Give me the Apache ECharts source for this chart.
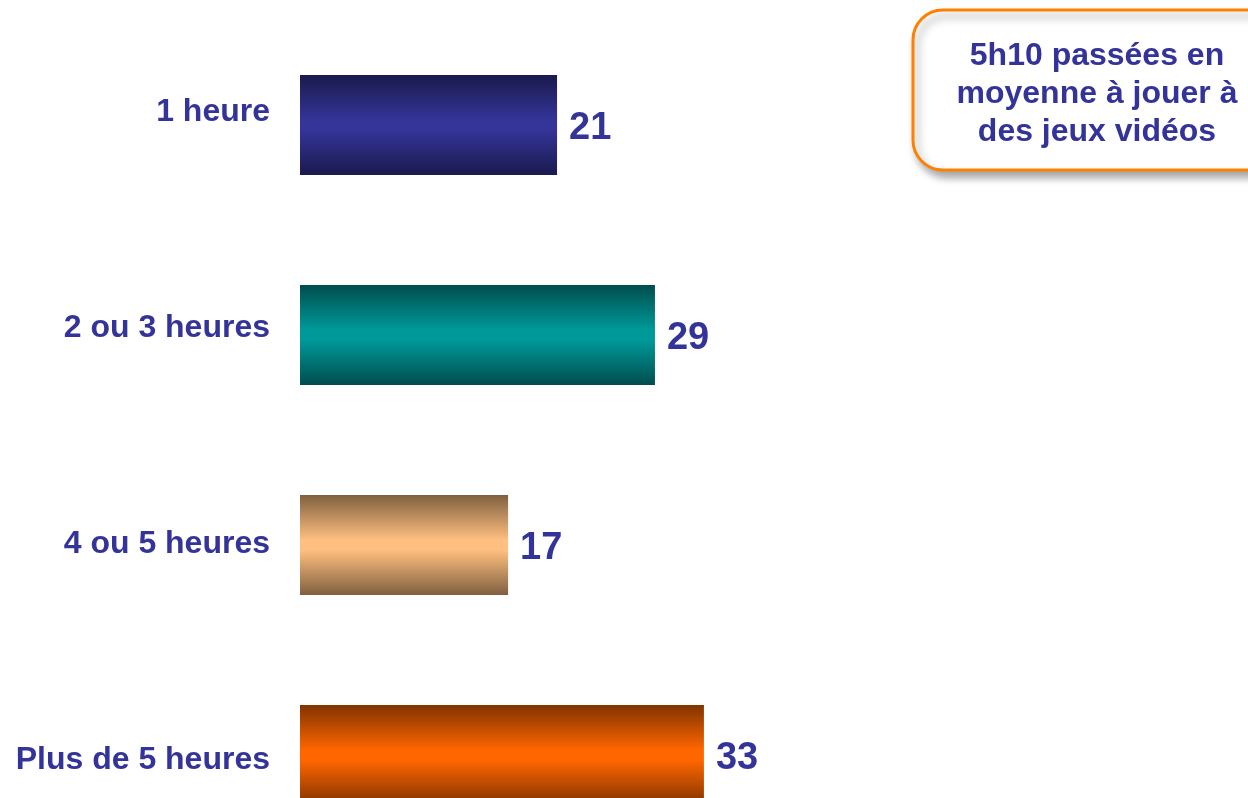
<!DOCTYPE html>
<html>
<head>
<meta charset="utf-8">
<title>Temps passé à jouer</title>
<script src="https://cdn.jsdelivr.net/npm/echarts@6/dist/echarts.min.js"></script>
<style>
  html, body { margin: 0; padding: 0; background: #fff; overflow: hidden; }
  /* taller than the window: the last bar is cut off at the bottom */
  #chart { width: 1248px; height: 880px; }
</style>
</head>
<body>
<div id="chart"></div>
<script>
  const categories = ['1 heure', '2 ou 3 heures', '4 ou 5 heures', 'Plus de 5 heures']
  const values = [21, 29, 17, 33]
  // edge colour, centre colour of each bar
  const barColors = [
    ['#1a1a4d', '#343499'],
    ['#004d4d', '#009999'],
    ['#80603f', '#ffbf80'],
    ['#803300', '#ff6600']
  ]
  const noteText = '5h10 passées en\nmoyenne à jouer à\ndes jeux vidéos'

  const font = '"Liberation Sans", Arial, sans-serif'
  const textColor = '#333399'

  const chart = echarts.init(document.getElementById('chart'))

  const seriesData = values.map((v, i) => ({
    value: v,
    itemStyle: {
      color: new echarts.graphic.LinearGradient(0, 0, 0, 1, [
        { offset: 0, color: barColors[i][0] },
        { offset: 0.45, color: barColors[i][1] },
        { offset: 0.55, color: barColors[i][1] },
        { offset: 1, color: barColors[i][0] }
      ])
    }
  }))

  chart.setOption({
    animation: false,
    grid: [
      { left: 300, top: 20, width: 612, height: 840 },
      // labels only, slightly different spacing than the bars
      { left: 300, top: 4, width: 612, height: 864 }
    ],
    xAxis: [
      { gridIndex: 0, type: 'value', min: 0, max: 50, show: false },
      { gridIndex: 1, type: 'value', min: 0, max: 50, show: false }
    ],
    yAxis: [
      {
        gridIndex: 0,
        type: 'category',
        inverse: true,
        data: categories,
        axisLine: { show: false },
        axisTick: { show: false },
        axisLabel: { show: false }
      },
      {
        gridIndex: 1,
        type: 'category',
        inverse: true,
        data: categories,
        axisLine: { show: false },
        axisTick: { show: false },
        axisLabel: {
          margin: 30,
          color: textColor,
          fontFamily: font,
          fontWeight: 'bold',
          fontSize: 32
        }
      }
    ],
    series: [
      {
        type: 'bar',
        xAxisIndex: 0,
        yAxisIndex: 0,
        barWidth: 100,
        data: seriesData,
        label: {
          show: true,
          position: 'right',
          distance: 12,
          offset: [0, 4],
          color: textColor,
          fontFamily: font,
          fontWeight: 'bold',
          fontSize: 38
        }
      }
    ],
    graphic: [
      {
        type: 'rect',
        shape: { x: 913, y: 10, width: 370, height: 160, r: 30 },
        style: {
          fill: '#fff',
          stroke: '#ff8000',
          lineWidth: 3,
          shadowBlur: 8,
          shadowOffsetX: 4,
          shadowOffsetY: 6,
          shadowColor: 'rgba(0,0,0,0.35)'
        }
      },
      {
        type: 'text',
        x: 1097,
        y: 94,
        style: {
          text: noteText,
          fill: textColor,
          font: 'bold 32px ' + font,
          align: 'center',
          verticalAlign: 'middle',
          lineHeight: 38
        }
      }
    ]
  })
</script>
</body>
</html>
